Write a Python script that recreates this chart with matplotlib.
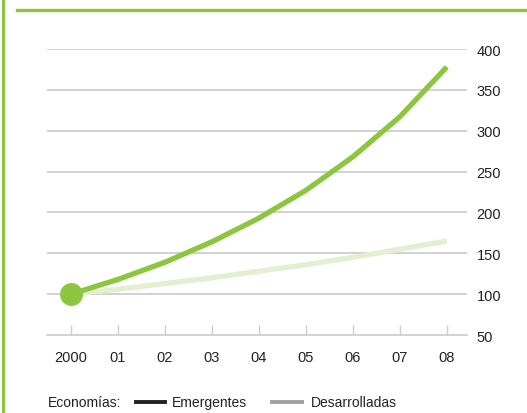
import matplotlib.pyplot as plt
from matplotlib.lines import Line2D

# Datos
years = [0, 1, 2, 3, 4, 5, 6, 7, 8]
year_labels = ["2000", "01", "02", "03", "04", "05", "06", "07", "08"]
emergentes = [100, 118, 139, 164, 193, 227, 268, 317, 378]
desarrolladas = [100, 106, 113, 120, 128, 136, 145, 155, 165]
y_ticks = [50, 100, 150, 200, 250, 300, 350, 400]

green = "#8cc63f"
light_green = "#e2efd1"
plt.rcParams["font.family"] = ["Liberation Sans Narrow", "Liberation Sans", "DejaVu Sans"]

fig = plt.figure(figsize=(5.27, 4.14), dpi=100)
ax = fig.add_axes([47 / 527, 1 - 336 / 414, 420 / 527, 286 / 414])

# Rejilla horizontal
for v in y_ticks[1:]:
    ax.axhline(v, color="#cfcfcf", lw=1.3, zorder=1)

ax.plot(years, desarrolladas, color=light_green, lw=3.8, solid_capstyle="butt", zorder=2)
ax.plot(years, emergentes, color=green, lw=3.8, solid_capstyle="butt", zorder=3)
ax.plot([years[0]], [emergentes[0]], "o", color=green, ms=16.5, mec="none", zorder=4)

ax.set_xlim(-0.51, 8.43)
ax.set_ylim(50, 400)
ax.set_xticks(years)
ax.set_xticklabels(year_labels)
ax.set_yticks(y_ticks)
ax.yaxis.tick_right()
for s in ["top", "left", "right"]:
    ax.spines[s].set_visible(False)
ax.spines["bottom"].set_color("#cfcfcf")
ax.spines["bottom"].set_linewidth(1.3)
ax.tick_params(axis="x", direction="in", length=7, width=1, color="#cfcfcf",
               labelsize=10.5, labelcolor="#222222", pad=11)
ax.tick_params(axis="y", length=0, labelsize=10.5, labelcolor="#222222", pad=7)
ax.patch.set_visible(False)

# Marco verde
fig.add_artist(Line2D([2.5 / 527, 2.5 / 527], [0, 1], color=green, lw=2.2))
fig.add_artist(Line2D([17 / 527, 1], [1 - 10.5 / 414, 1 - 10.5 / 414], color=green, lw=2.4))

# Leyenda
ly = 1 - 403 / 414
fig.text(48 / 527, ly, "Economías:", fontsize=10, color="#222222", va="center")
fig.add_artist(Line2D([136 / 527, 165 / 527], [ly, ly], color="#222222", lw=2.8))
fig.text(172 / 527, ly, "Emergentes", fontsize=10, color="#222222", va="center")
fig.add_artist(Line2D([272 / 527, 302 / 527], [ly, ly], color="#a0a0a0", lw=2.8))
fig.text(311 / 527, ly, "Desarrolladas", fontsize=10, color="#222222", va="center")

fig.savefig("out.png", dpi=100)
